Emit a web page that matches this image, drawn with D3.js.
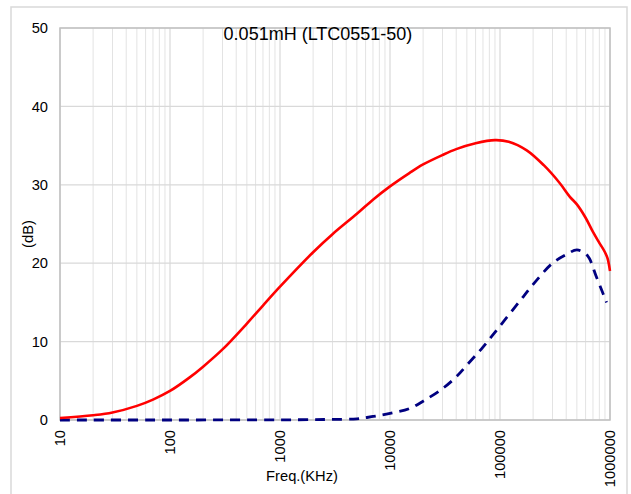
<!DOCTYPE html>
<html><head><meta charset="utf-8">
<script src="https://cdn.jsdelivr.net/npm/d3@7"></script>
<style>
html,body{margin:0;padding:0;background:#fff;}
text{font-family:"Liberation Sans",Arial,sans-serif;fill:#000;}
</style></head>
<body><svg id="c" width="631" height="494"></svg>
<script>
const title = "0.051mH (LTC0551-50)";
const xLabel = "Freq.(KHz)";
const yLabel = "(dB)";
const xTicks = [10, 100, 1000, 10000, 100000, 1000000];
const yTicks = [0, 10, 20, 30, 40, 50];

const redFreq = [10, 20, 30, 50, 70, 100, 150, 200, 300, 500, 700, 1000, 2000, 3000, 5000, 7000, 10000, 15000, 20000, 30000, 40000, 60000, 90000, 120000, 175000, 250000, 350000, 430000, 500000, 600000, 700000, 800000, 900000, 950000, 1000000];
const redDb   = [0.25, 0.6, 0.95, 1.8, 2.6, 3.7, 5.4, 6.8, 9.0, 12.3, 14.6, 17.0, 21.4, 23.7, 26.3, 28.1, 29.8, 31.5, 32.6, 33.8, 34.55, 35.3, 35.7, 35.5, 34.4, 32.5, 30.2, 28.5, 27.5, 25.8, 24.0, 22.6, 21.4, 20.6, 19.0];

const blueFreq = [10, 100, 1000, 2000, 3000, 5000, 7000, 10000, 15000, 20000, 30000, 40000, 50000, 70000, 100000, 150000, 200000, 300000, 400000, 500000, 600000, 650000, 750000, 850000, 930000];
const blueDb   = [0, 0, 0.02, 0.05, 0.08, 0.15, 0.45, 0.85, 1.45, 2.4, 4.0, 5.5, 7.0, 9.3, 12.0, 15.1, 17.3, 20.0, 21.1, 21.7, 21.2, 20.6, 18.3, 16.4, 15.0];

const svg = d3.select("#c");
const L = 60, R = 610, T = 28, B = 420;

// outer chart border
svg.append("rect").attr("x", 11).attr("y", 7).attr("width", 616).attr("height", 500)
  .attr("fill", "#fff").attr("stroke", "#d9d9d9").attr("stroke-width", 1.5);

const x = d3.scaleLog().domain([10, 1000000]).range([L, R]);
const y = d3.scaleLinear().domain([0, 50]).range([B, T]);

// minor vertical grid
const minor = [];
for (let e = 1; e < 6; e++) for (let m = 2; m <= 9; m++) minor.push(m * Math.pow(10, e));
svg.append("g").selectAll("line").data(minor).join("line")
  .attr("x1", d => x(d)).attr("x2", d => x(d)).attr("y1", T).attr("y2", B)
  .attr("stroke", "#e3e3e3").attr("stroke-width", 1);
// major vertical grid
svg.append("g").selectAll("line").data(xTicks).join("line")
  .attr("x1", d => x(d)).attr("x2", d => x(d)).attr("y1", T).attr("y2", B)
  .attr("stroke", "#d9d9d9").attr("stroke-width", 1.2);
// horizontal grid
svg.append("g").selectAll("line").data(yTicks).join("line")
  .attr("x1", L).attr("x2", R).attr("y1", d => y(d)).attr("y2", d => y(d))
  .attr("stroke", "#d9d9d9").attr("stroke-width", 1.2);

// plot border
svg.append("rect").attr("x", L).attr("y", T).attr("width", R - L).attr("height", B - T)
  .attr("fill", "none").attr("stroke", "#c0c0c0").attr("stroke-width", 1.5);

// y ticks
svg.append("g").selectAll("text").data(yTicks).join("text")
  .attr("x", 48).attr("y", d => y(d)).attr("dy", "0.35em")
  .attr("text-anchor", "end").style("font-size", "14.7px").text(d => d);

// x ticks (rotated)
svg.append("g").selectAll("text").data(xTicks).join("text")
  .attr("transform", d => `translate(${x(d)},430) rotate(-90)`)
  .attr("dy", "0.35em").attr("text-anchor", "end").style("font-size", "14.7px").text(d => d);

// axis titles
svg.append("text").attr("x", 302).attr("y", 481).attr("text-anchor", "middle")
  .style("font-size", "14.7px").text(xLabel);
svg.append("text").attr("transform", "translate(33,234) rotate(-90)").attr("text-anchor", "middle")
  .style("font-size", "14.7px").text(yLabel);

// title
svg.append("text").attr("x", 318).attr("y", 40).attr("text-anchor", "middle")
  .style("font-size", "18px").text(title);

const line = d3.line().x(d => x(d[0])).y(d => y(d[1])).curve(d3.curveCatmullRom.alpha(0.5));

svg.append("path").datum(blueFreq.map((f, i) => [f, blueDb[i]]))
  .attr("d", line).attr("fill", "none").attr("stroke", "#000080")
  .attr("stroke-width", 2.8).attr("stroke-dasharray", "10,7");

svg.append("path").datum(redFreq.map((f, i) => [f, redDb[i]]))
  .attr("d", line).attr("fill", "none").attr("stroke", "#ff0000")
  .attr("stroke-width", 2.6);
</script></body></html>
